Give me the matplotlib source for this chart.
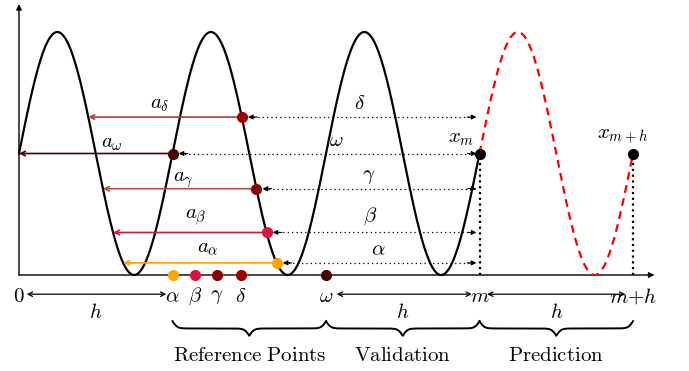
import numpy as np
import matplotlib
matplotlib.use("Agg")
import matplotlib.pyplot as plt

plt.rcParams['mathtext.fontset'] = 'cm'
plt.rcParams['font.family'] = 'serif'

# time axis in units of the horizon h, signal height in units of amplitude
period = 1.0
m_pos = 3.0
mh_pos = 4.0

ref_names = ['alpha', 'beta', 'gamma', 'delta']
ref_axis_x = [1.0, 1.147, 1.29, 1.446]
omega_x = 2.0
# signal value at each reference point
ref_levels = [0.10, 0.35, 0.71, 1.30]
omega_level = 1.0
ref_colors = ['#ffa500', '#dc143c', '#8b0000', '#9e0000']
arrow_colors = ['#ffa500', '#dc143c', '#b34d4d', '#b33b3b']
omega_color = '#4d0000'

a_label_x = [1.23, 1.15, 1.07, 0.92]
greek_label_x = [2.34, 2.29, 2.28, 2.22]
a_label_dy = [0.13, 0.12, 0.07, 0.10]
greek_label_dy = [0.11, 0.13, 0.10, 0.11]

axis_labels = [r'$0$', r'$\alpha$', r'$\beta$', r'$\gamma$', r'$\delta$',
               r'$\omega$', r'$m$', r'$m{+}h$']
axis_label_x = [0.0, 1.0, 1.147, 1.29, 1.446, 2.0, 3.0, 4.0]

segments = ['Reference Points', 'Validation', 'Prediction']
segment_bounds = [(1.0, 2.0), (2.0, 3.0), (3.0, 4.0)]

FS = 15


def signal(x):
    return 1 + np.sin(2 * np.pi * x / period)


def falling_x(level, k):
    # x on the falling side of cycle k where the signal equals level
    return k + 0.5 - np.arcsin(level - 1) / (2 * np.pi)


def brace(ax, xa, xb, ytop, depth, beta=65.0):
    xs = np.linspace(xa, xb, 501)
    xm = (xa + xb) / 2
    f = np.where(xs <= xm,
                 1 / (1 + np.exp(-beta * (xs - xa))) + 1 / (1 + np.exp(-beta * (xs - xm))),
                 1 / (1 + np.exp(beta * (xs - xb))) + 1 / (1 + np.exp(beta * (xs - xm))))
    ax.plot(xs, ytop - depth * (f - 0.5), color='black', lw=1.4)


def arrow(ax, x0, x1, y, color, style='->', lw=1.0, ms=8):
    ax.annotate('', xy=(x1, y), xytext=(x0, y),
                arrowprops=dict(arrowstyle=style, color=color, lw=lw,
                                mutation_scale=ms, shrinkA=0, shrinkB=0))


fig = plt.figure(figsize=(6.89, 3.71), dpi=100)
ax = fig.add_axes([0, 0, 1, 1])
ax.set_xlim(-19 / 153.5, 670 / 153.5)
ax.set_ylim(-96 / 121.5, 275 / 121.5)
ax.axis('off')

# axes
arrow(ax, 0, 4.14, 0, 'black', '-|>', lw=1.0, ms=8)
ax.annotate('', xy=(0, 2.23), xytext=(0, 0),
            arrowprops=dict(arrowstyle='-|>', color='black', lw=1.0,
                            mutation_scale=8, shrinkA=0, shrinkB=0))

# signal
xs = np.linspace(0, m_pos, 600)
ax.plot(xs, signal(xs), color='black', lw=1.6, zorder=3)
xp = np.linspace(m_pos, mh_pos, 200)
ax.plot(xp, signal(xp), color='red', lw=1.6, ls=(0, (3.5, 2.5)), zorder=3)

# vertical dotted to the axis
for xv in [m_pos, mh_pos]:
    ax.plot([xv, xv], [0, signal(xv)], color='black', lw=1.6, ls=(0, (1, 1.6)), zorder=2)

# reference points
for i in range(4):
    lev = ref_levels[i]
    xc = falling_x(lev, 1)
    xb = falling_x(lev, 0)
    arrow(ax, xc, xb, lev, arrow_colors[i], '->', lw=1.2, ms=8)
    ax.plot([xc + 0.05, m_pos - 0.03], [lev, lev], color='black', lw=0.9, ls=(0, (1, 2.5)))
    arrow(ax, xc + 0.1, xc + 0.04, lev, 'black', '-|>', lw=0.8, ms=7)
    arrow(ax, m_pos - 0.08, m_pos - 0.02, lev, 'black', '-|>', lw=0.8, ms=7)
    ax.plot(xc, lev, 'o', color=ref_colors[i], ms=7, zorder=5)
    ax.plot(ref_axis_x[i], 0, 'o', color=ref_colors[i], ms=7, zorder=5, clip_on=False)
    ax.text(a_label_x[i], lev + a_label_dy[i], r'$a_\%s$' % ref_names[i],
            fontsize=FS, ha='center', va='center')
    ax.text(greek_label_x[i], lev + greek_label_dy[i], r'$\%s$' % ref_names[i],
            fontsize=FS, ha='center', va='center')

# omega point
arrow(ax, omega_x - 1, 0, omega_level, omega_color, '->', lw=1.2, ms=8)
ax.plot([omega_x - 1 + 0.05, m_pos - 0.03], [omega_level] * 2, color='black', lw=0.9,
        ls=(0, (1, 2.5)))
arrow(ax, omega_x - 1 + 0.1, omega_x - 1 + 0.04, omega_level, 'black', '-|>', lw=0.8, ms=7)
arrow(ax, m_pos - 0.08, m_pos - 0.02, omega_level, 'black', '-|>', lw=0.8, ms=7)
ax.plot(omega_x - 1, omega_level, 'o', color=omega_color, ms=7, zorder=5)
ax.plot(omega_x, 0, 'o', color=omega_color, ms=7, zorder=5)
ax.text(0.606, 1.086, r'$a_\omega$', fontsize=FS, ha='center', va='center')
ax.text(2.07, 1.11, r'$\omega$', fontsize=FS, ha='center', va='center')

# x_m and x_{m+h}
ax.plot([m_pos, mh_pos], [signal(m_pos), signal(mh_pos)], 'o', color='black', ms=7, zorder=6)
ax.text(m_pos - 0.12, 1.12, r'$x_m$', fontsize=FS, ha='center', va='center')
ax.text(mh_pos - 0.07, 1.14, r'$x_{m+h}$', fontsize=FS, ha='center', va='center')

# labels under the axis
for lab, xl in zip(axis_labels, axis_label_x):
    ax.text(xl, -0.175, lab, fontsize=FS, ha='center', va='center')

for (x0, x1) in [(0.05, 0.96), (2.07, 2.95), (3.05, 3.95)]:
    arrow(ax, x0, x1, -0.158, 'black', '<->', lw=0.9, ms=8)
for xh in [0.5, 2.5, 3.5]:
    ax.text(xh, -0.305, r'$h$', fontsize=FS, ha='center', va='center')

# braces
for name, (x0, x1) in zip(segments, segment_bounds):
    brace(ax, x0, x1, -0.38, 0.12)
    ax.text((x0 + x1) / 2, -0.66, r'$\mathrm{%s}$' % name.replace(' ', r'\ '),
            fontsize=FS, ha='center', va='center')

fig.savefig('out.png', dpi=100)
